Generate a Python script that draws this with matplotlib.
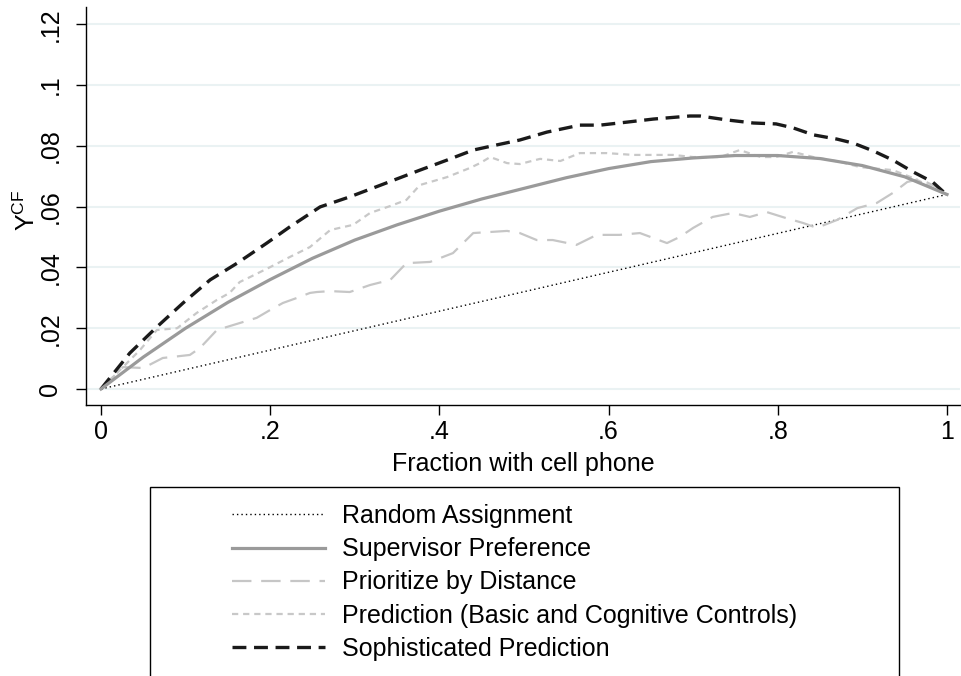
import matplotlib
matplotlib.use("Agg")
import matplotlib.pyplot as plt
from matplotlib.patches import Rectangle
import numpy as np

plt.rcParams['font.family'] = ['Liberation Sans', 'DejaVu Sans']
plt.rcParams['mathtext.fontset'] = 'custom'
plt.rcParams['mathtext.rm'] = 'Liberation Sans'
plt.rcParams['lines.scale_dashes'] = False

# ---- data ----
random_x = [0.0, 1.0]
random_y = [0.0, 0.064]

sup_x = [0.0, 0.05, 0.10, 0.15, 0.20, 0.25, 0.30, 0.35, 0.40, 0.45, 0.50,
         0.55, 0.60, 0.65, 0.70, 0.75, 0.80, 0.85, 0.90, 0.95, 1.0]
sup_y = [0.0, 0.0105, 0.0200, 0.0285, 0.0360, 0.0430, 0.0490, 0.0540, 0.0585,
         0.0625, 0.0660, 0.0695, 0.0725, 0.0748, 0.0760, 0.0768, 0.0768, 0.0758,
         0.0735, 0.0698, 0.064]

dist_x = [0.0, 0.026, 0.05, 0.073, 0.105, 0.117, 0.137, 0.164, 0.184, 0.2, 0.215,
          0.232, 0.247, 0.255, 0.271, 0.294, 0.318, 0.342, 0.361, 0.389, 0.416,
          0.44, 0.48, 0.495, 0.515, 0.534, 0.562, 0.586, 0.613, 0.637, 0.669,
          0.684, 0.70, 0.723, 0.747, 0.767, 0.787, 0.81, 0.83, 0.846, 0.87,
          0.894, 0.917, 0.936, 0.953, 0.968, 0.988, 1.0]
dist_y = [0.0, 0.0072, 0.0069, 0.0102, 0.0112, 0.0135, 0.0194, 0.0217, 0.0234,
          0.026, 0.0283, 0.030, 0.0316, 0.0319, 0.0322, 0.0319, 0.0342, 0.0359,
          0.0414, 0.0418, 0.0447, 0.0513, 0.052, 0.0513, 0.049, 0.049, 0.0474,
          0.0507, 0.0507, 0.0513, 0.048, 0.050, 0.053, 0.0566, 0.0579, 0.0566,
          0.0582, 0.0562, 0.0546, 0.053, 0.0556, 0.0595, 0.0612, 0.0645, 0.0681,
          0.0691, 0.0664, 0.064]

pred_x = [0.0, 0.046, 0.066, 0.09, 0.113, 0.137, 0.152, 0.164, 0.176, 0.2, 0.223,
          0.247, 0.271, 0.298, 0.318, 0.342, 0.361, 0.377, 0.409, 0.436, 0.448,
          0.46, 0.48, 0.495, 0.519, 0.543, 0.566, 0.598, 0.629, 0.653, 0.676,
          0.70, 0.732, 0.755, 0.78, 0.798, 0.818, 0.842, 0.874, 0.897, 0.936,
          0.96, 1.0]
pred_y = [0.0, 0.0128, 0.0194, 0.020, 0.025, 0.0293, 0.0316, 0.0352, 0.0368,
          0.0401, 0.0434, 0.0467, 0.0523, 0.054, 0.0579, 0.0602, 0.0622, 0.0671,
          0.0697, 0.0727, 0.0743, 0.0763, 0.0743, 0.074, 0.0757, 0.075, 0.0776,
          0.0776, 0.077, 0.077, 0.077, 0.0763, 0.0763, 0.0786, 0.0763, 0.0763,
          0.078, 0.0763, 0.0747, 0.073, 0.072, 0.0694, 0.064]

soph_x = [0.0, 0.034, 0.066, 0.097, 0.129, 0.161, 0.196, 0.223, 0.259, 0.294,
          0.330, 0.377, 0.409, 0.44, 0.468, 0.495, 0.527, 0.566, 0.59, 0.622,
          0.653, 0.696, 0.708, 0.74, 0.771, 0.798, 0.818, 0.842, 0.87, 0.889,
          0.913, 0.936, 0.96, 0.983, 1.0]
soph_y = [0.0, 0.0118, 0.0204, 0.0283, 0.0359, 0.0414, 0.048, 0.0533, 0.0599,
          0.0632, 0.067, 0.072, 0.0753, 0.0786, 0.0803, 0.0819, 0.0845, 0.0868,
          0.0868, 0.0878, 0.0888, 0.0898, 0.0898, 0.0885, 0.0875, 0.0872, 0.0859,
          0.0836, 0.0822, 0.0809, 0.0783, 0.0753, 0.0714, 0.0681, 0.0638]

labels = ["Random Assignment", "Supervisor Preference", "Prioritize by Distance",
          "Prediction (Basic and Cognitive Controls)", "Sophisticated Prediction"]

xticks = [0, 0.2, 0.4, 0.6, 0.8, 1.0]
xticklabels = ["0", ".2", ".4", ".6", ".8", "1"]
yticks = [0, 0.02, 0.04, 0.06, 0.08, 0.10, 0.12]
yticklabels = ["0", ".02", ".04", ".06", ".08", ".1", ".12"]

# ---- figure ----
fig = plt.figure(figsize=(9.61, 6.76), dpi=100)
ax = fig.add_axes([86/961, 1-405/676, (960-86)/961, (405-7)/676])

ax.set_xlim(-15/846, 1 + 13/846)
ax.set_ylim((389-405)/3040, (389-7)/3040)

for y in yticks:
    ax.axhline(y, color='#eaf2f3', lw=1.5, zorder=0)

h1, = ax.plot(random_x, random_y, color='black', lw=1.0, dashes=(1.0, 2.2), label=labels[0])
h2, = ax.plot(sup_x, sup_y, color='#9a9a9a', lw=2.3, label=labels[1])
h3, = ax.plot(dist_x, dist_y, color='#c6c6c6', lw=1.6, dashes=(14, 7), label=labels[2])
h4, = ax.plot(pred_x, pred_y, color='#c8c8c8', lw=1.6, dashes=(4.5, 3.5), label=labels[3])
h5, = ax.plot(soph_x, soph_y, color='#1a1a1a', lw=2.4, dashes=(10, 5.5), label=labels[4])
h2.set_zorder(3)

for s in ['top', 'right']:
    ax.spines[s].set_visible(False)
ax.spines['left'].set_linewidth(1.0)
ax.spines['bottom'].set_linewidth(1.0)

ax.set_xticks(xticks)
ax.set_xticklabels(xticklabels, fontsize=18)
ax.set_yticks(yticks)
ax.set_yticklabels(yticklabels, fontsize=18, rotation=90, va='center')
ax.tick_params(axis='x', direction='out', length=7, width=1.0, pad=4)
ax.tick_params(axis='y', direction='out', length=7, width=1.0, pad=10)

ax.set_xlabel("Fraction with cell phone", fontsize=18, labelpad=5.5)
ax.set_ylabel(r"Y$^{\mathrm{CF}}$", fontsize=18)
ax.yaxis.set_label_coords((40-86)/874, 0.49)

# legend frame (cut off at bottom like the reference)
fig.patches.append(Rectangle((150/961, -0.05), (899-150)/961, 1-487/676+0.05,
                             transform=fig.transFigure, fill=False,
                             edgecolor='black', lw=1.0))
fig.legend(handles=[h1, h2, h3, h4, h5], labels=labels,
           loc='upper left', bbox_to_anchor=(232/961, 1-504/676),
           frameon=False, fontsize=18, handlelength=3.7, handletextpad=0.72,
           labelspacing=0.37, borderpad=0, borderaxespad=0)

fig.savefig("out.png", dpi=100)
